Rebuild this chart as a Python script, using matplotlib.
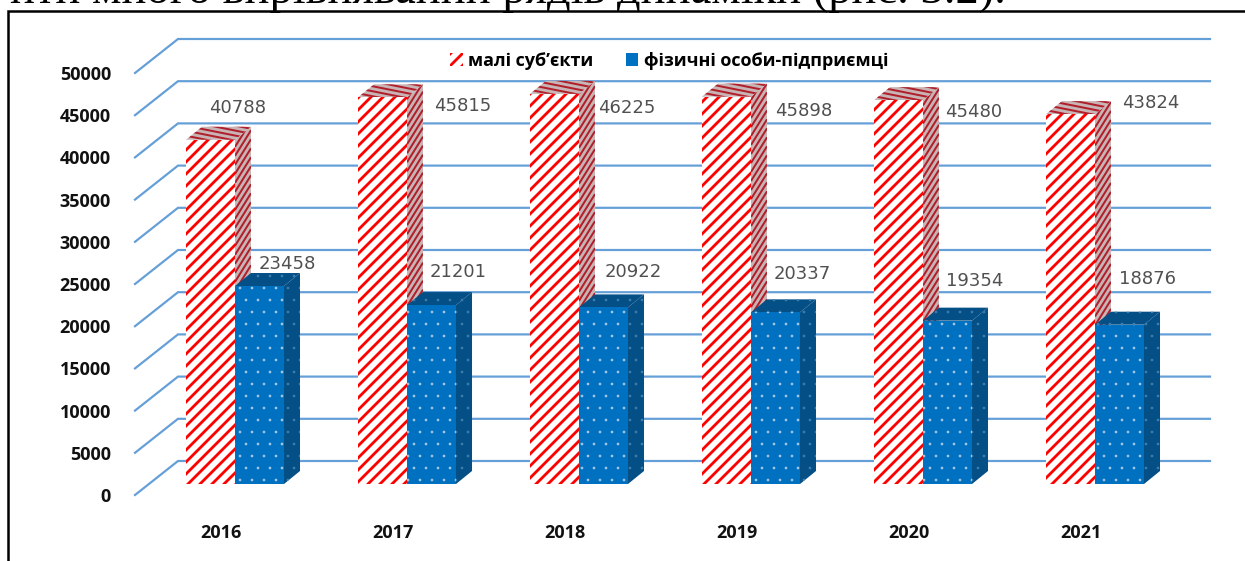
import matplotlib
matplotlib.use('Agg')
import matplotlib.pyplot as plt
import numpy as np
from matplotlib.collections import LineCollection
from matplotlib.lines import Line2D
from matplotlib.patches import Patch, Polygon
from matplotlib.transforms import IdentityTransform, ScaledTranslation

years = ['2016', '2017', '2018', '2019', '2020', '2021']
small_firms = [40788, 45815, 46225, 45898, 45480, 43824]
entrepreneurs = [23458, 21201, 20922, 20337, 19354, 18876]
y_ticks = list(range(0, 50001, 5000))
legend_labels = ['малі суб’єкти', 'фізичні особи-підприємці']
caption = 'ити много вирівняваний рядів динаміки (рис. 3.2).'

# label offsets from the bar top centre, pixels
small_offsets = [(27, 32), (80, -9), (72, -14), (77, -14), (75, -12), (80, 11)]
entrepreneur_offsets = [(28, 22), (27, 33), (30, 35), (27, 38), (27, 40), (28, 46)]

W, H = 1245, 561
RED = '#ff0000'
BLUE = '#0070c0'
GRID = '#659fd8'
LABEL = '#505050'
DOT = '#a9cbe6'
TICK_FONT = ['Open Sans', 'DejaVu Sans']

fig = plt.figure(figsize=(W / 72, H / 72), dpi=72, facecolor='white')
# plot area runs from pixel x 135 to 1210 and from pixel y 62 to 484
ax = fig.add_axes([135 / W, 1 - 484 / H, 1075 / W, 422 / H])
step = 172
ax.set_xlim((135 - 235) / step, (1210 - 235) / step)
ax.set_ylim(0, 50000)
for spine in ax.spines.values():
    spine.set_visible(False)
ax.patch.set_visible(False)

px_y = 50000 / 422
bar_w = 49 / step
depth_x = 16 / step
depth_y = 13 * px_y

# back wall grid with the slanted side wall piece
grid_tr = ax.get_yaxis_transform()
for v in y_ticks:
    ax.plot([0, 0.04, 1], [v - 11 * px_y, v + 23 * px_y, v + 23 * px_y],
            color=GRID, lw=2.2, transform=grid_tr, clip_on=False, zorder=1,
            solid_joinstyle='miter')


def stripes(poly, slope, gap, color, lw, z):
    pts = ax.transData.transform(poly.get_xy())
    x0, x1 = pts[:, 0].min(), pts[:, 0].max()
    y0, y1 = pts[:, 1].min(), pts[:, 1].max()
    span = abs(slope) * (x1 - x0) + (y1 - y0)
    segs = []
    for c in np.arange(y0 - span, y1 + span, gap):
        segs.append([(x0, c), (x1, c + slope * (x1 - x0))])
    lines = LineCollection(segs, colors=color, linewidths=lw,
                           transform=IdentityTransform(), zorder=z)
    ax.add_collection(lines, autolim=False)
    lines.set_clip_path(poly)


def draw_bar(left, value, front_kw, side_color, z, striped):
    right = left + bar_w
    side_pts = [(right, 0), (right + depth_x, depth_y),
                (right + depth_x, value + depth_y), (right, value)]
    top_pts = [(left, value), (right, value), (right + depth_x, value + depth_y),
               (left + depth_x, value + depth_y)]
    for pts in (side_pts, top_pts):
        if striped:
            face = Polygon(pts, facecolor=side_color, edgecolor='none', lw=0, zorder=z, clip_on=False)
        else:
            face = Polygon(pts, facecolor=side_color, edgecolor='#3f7fae', hatch='.', lw=0,
                           zorder=z, clip_on=False)
        ax.add_patch(face)
        if striped:
            stripes(face, 1.6 if pts is side_pts else -0.2, 9 if pts is side_pts else 5,
                    '#b01f2b', 2, z)
    ax.bar(left, value, bar_w, align='edge', zorder=z, clip_on=False, **front_kw)


x = np.arange(len(years))
for i in x:
    plt.rcParams['hatch.linewidth'] = 2.8
    draw_bar(i - bar_w, small_firms[i],
             dict(facecolor='white', edgecolor=RED, hatch='//', linewidth=0),
             '#c8b4b4', 3 + i * 0.1, True)
    plt.rcParams['hatch.linewidth'] = 0.2
    draw_bar(i, entrepreneurs[i],
             dict(facecolor=BLUE, edgecolor=DOT, hatch='.', linewidth=0),
             '#044f86', 3.05 + i * 0.1, False)

for i in x:
    ax.annotate(str(small_firms[i]), (i - bar_w / 2, small_firms[i]),
                xytext=small_offsets[i], textcoords='offset points', ha='center', va='center',
                fontsize=18, color=LABEL, zorder=10, annotation_clip=False)
    ax.annotate(str(entrepreneurs[i]), (i + bar_w / 2, entrepreneurs[i]),
                xytext=entrepreneur_offsets[i], textcoords='offset points', ha='center', va='center',
                fontsize=18, color=LABEL, zorder=10, annotation_clip=False)

ax.set_yticks(y_ticks)
ax.set_yticklabels([str(v) for v in y_ticks], fontsize=18, fontweight='bold', family=TICK_FONT, color='#111111')
ax.tick_params(axis='y', length=0, pad=24)
ax.set_xticks(x)
ax.set_xticklabels(years, fontsize=18, fontweight='bold', family=TICK_FONT, color='#111111')
ax.tick_params(axis='x', length=0, pad=40)
for lab in ax.get_yticklabels():
    lab.set_transform(lab.get_transform() + ScaledTranslation(0, -11 / 72, fig.dpi_scale_trans))
for lab in ax.get_xticklabels():
    lab.set_transform(lab.get_transform() + ScaledTranslation(-14 / 72, 0, fig.dpi_scale_trans))

plt.rcParams['hatch.linewidth'] = 2.8
handles = [Patch(facecolor='white', edgecolor=RED, hatch='//', linewidth=0),
           Patch(facecolor=BLUE, edgecolor=DOT, linewidth=0)]
fig.legend(handles, legend_labels, loc='center', bbox_to_anchor=(669 / W, 1 - 61 / H),
           ncol=2, frameon=False, handlelength=0.7, handleheight=0.7, handletextpad=0.3,
           columnspacing=1.8, prop={'family': TICK_FONT, 'weight': 'bold', 'size': 18})

# page text and frame around the pasted chart
fig.text(10 / W, 1 - 3 / H, caption, family=['Liberation Serif'], fontsize=46.5,
         color='black', ha='left', va='baseline')
fig.add_artist(Line2D([8 / W, 8 / W, 1], [0, 1 - 11 / H, 1 - 11 / H], color='black', lw=2.5,
                      solid_joinstyle='miter'))

fig.savefig('out.png', dpi=72, facecolor='white')
